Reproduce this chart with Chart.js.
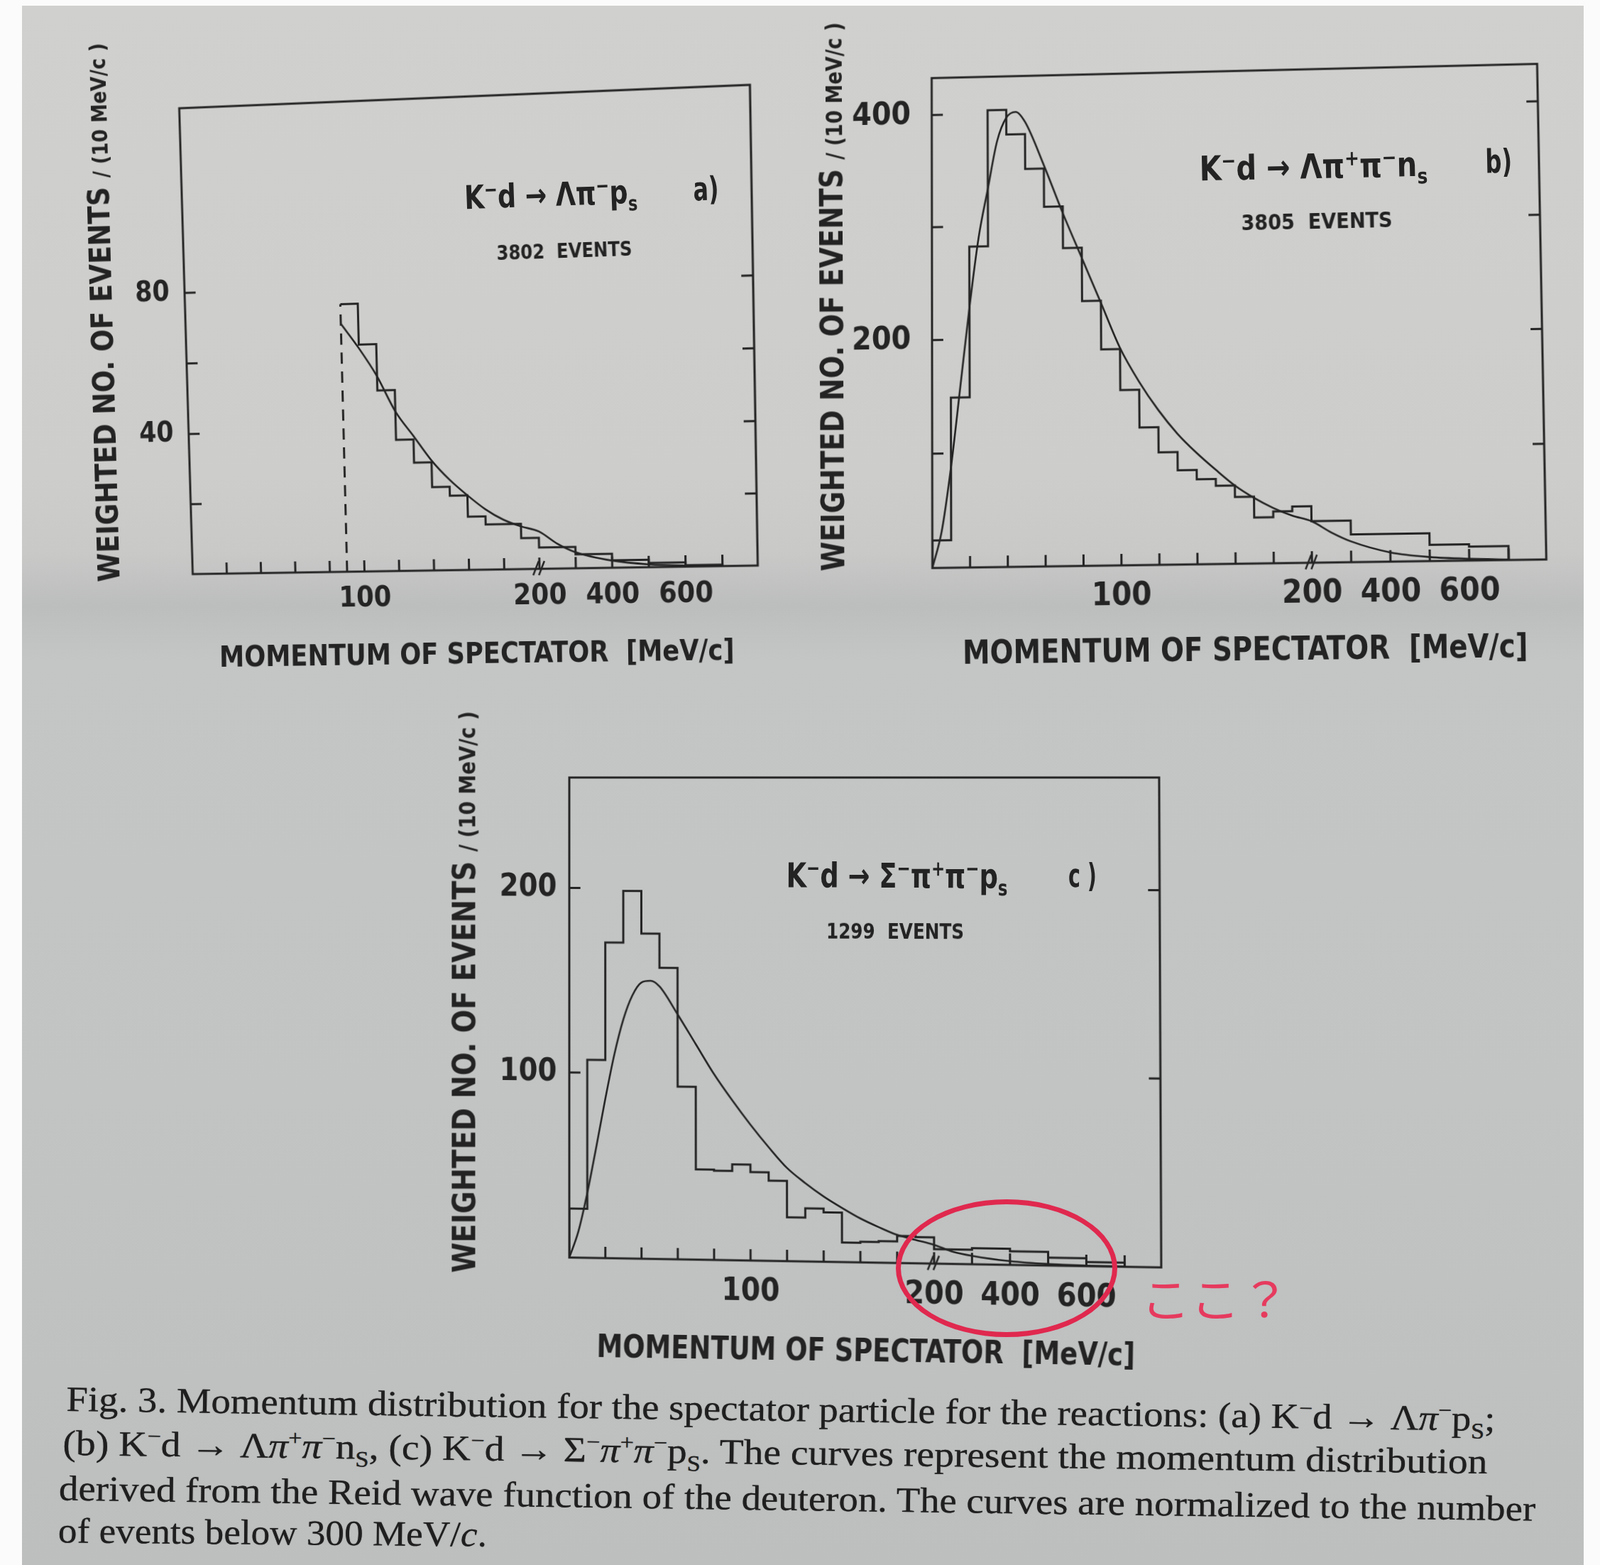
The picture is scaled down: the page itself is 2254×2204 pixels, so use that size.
<!DOCTYPE html>
<html><head><meta charset="utf-8">
<script src="https://cdn.jsdelivr.net/npm/chart.js@4.4.1/dist/chart.umd.min.js"></script>
<style>
html,body{margin:0;padding:0;}
body{width:2254px;height:2204px;position:relative;overflow:hidden;background:#fbfbfb;}
#page{position:absolute;left:31px;top:8px;width:2200px;height:2196px;
 background:linear-gradient(180deg,#d0d0ce 0%,#cdcdcb 30%,#c9c9c8 35%,#bcbdbd 38.5%,#c4c5c5 42%,#c2c3c3 70%,#bdbebe 100%);}
canvas{position:absolute;transform-origin:0 0;}
.t{position:absolute;white-space:nowrap;color:#232323;transform-origin:50% 50%;line-height:1;}
.plot{font-family:'Liberation Sans Narrow','DejaVu Sans Condensed','Liberation Sans',sans-serif;font-weight:bold;}
.cap{font-family:'Liberation Serif','DejaVu Serif',serif;color:#1f1f1f;text-shadow:0 0 1px #333;}
sup,sub{font-size:0.62em;line-height:0;}
#ring{position:absolute;left:1262px;top:1689px;width:312px;height:194px;border:7px solid #e0284e;border-radius:50%;box-sizing:border-box;}
</style></head><body>
<div id="page"></div>
<canvas id="ca"></canvas>
<canvas id="cb"></canvas>
<canvas id="cc"></canvas>
<div id="ring"></div>
<script>
// ---------- data ----------
// x-axis is linear up to 200 MeV/c, compressed above 200 (break "//")
const X_TICK_MOMENTA = [100, 200, 400, 600];
const X_TICK_LABELS = ['100', '200', '400', '600'];
const X_MINOR_MOMENTA = [20,40,60,80,100,120,140,160,180,200,300,400,500,600,700];

// (a) K-d -> Λ π- p_s   (3802 events), histogram starts at 90 MeV/c
const edgesA = [90,100,110,120,130,140,150,160,170,180,190,200,300,400,500,600,700];
const histA  = [75.5,64,51,37,30.5,23.5,21,15,12.7,12.7,8.7,6,3.9,2.1,1.2,0.4];
const curvePA = [90,100,110,120,130,140,150,160,170,180,190,200,250,300,400,500,600,700];
const curveVA = [70,63,55,45,38,31,25.5,21,17,14,12,10.5,7,4.5,2,0.8,0.3,0.1];
const yLabelsA = [40, 80];
const yMinorA = [20, 40, 60, 80];

// (b) K-d -> Λ π+ π- n_s   (3805 events)
const edgesB = [0,10,20,30,40,50,60,70,80,90,100,110,120,130,140,150,160,170,180,190,200,300,400,500,600,700];
const histB  = [24,149,282,403,381,350,316,279,232,189,153,120,98,82,74,68,58,40,45,49,36,24,24,14,12];
const curvePB = [0,5,10,15,20,25,30,35,40,45,50,60,70,80,90,100,110,120,130,140,150,160,170,180,190,200,250,300,400,500,600,700];
const curveVB = [0,32,88,158,228,290,333,375,396,401,392,353,310,270,230,190,160,135,114,97,82,68,57,48,41,36,26,18,8,3.5,1.5,0.5];
const yLabelsB = [200, 400];
const yMinorB = [100, 200, 300, 400];

// (c) K-d -> Σ- π+ π- p_s   (1299 events)
const edgesC = [0,10,20,30,40,50,60,70,80,90,100,110,120,130,140,150,160,170,180,190,200,300,400,500,600,700];
const histC  = [26.5,107,170.5,198.5,175.5,157,93,48.5,48,51.5,47.5,43,23.5,28.5,26.5,10.5,11,11.5,14.5,14,7.7,8.6,7.2,4.2,2.2];
const curvePC = [0,5,10,15,20,25,30,35,40,45,50,60,70,80,90,100,110,120,130,140,150,160,170,180,190,200,250,300,400,500,600,700];
const curveVC = [0,14,35,60,86,110,129,142,149,150,147,132,116,100,86,73,61,50,42,35,29,23.5,19,15,12.5,10,6.5,4.5,2,0.8,0.3,0.1];
const yLabelsC = [100, 200];
const yMinorC = [100, 200];

// ---------- helpers ----------
const INK = '#242424';
const K = 0.205;          // compression factor above 200 MeV/c
const UMAX = 322;
function toU(p){ return p <= 200 ? p : 200 + (p - 200) * K; }
function histPoints(edges, vals, fromZero){
  const pts = [];
  if (fromZero) pts.push({x: toU(edges[0]), y: 0});
  vals.forEach((v, i) => pts.push({x: toU(edges[i]), y: v}));
  const last = edges[edges.length - 1];
  pts.push({x: toU(last), y: vals[vals.length - 1]});
  pts.push({x: toU(last), y: 0});
  return pts;
}
function curvePoints(ps, vs){ return ps.map((p, i) => ({x: toU(p), y: vs[i]})); }

const framePlugin = {
  id: 'frame',
  afterDatasetsDraw(chart, args, o){
    const {ctx, chartArea: a, scales: {x, y}} = chart;
    ctx.save();
    ctx.strokeStyle = INK; ctx.lineWidth = 3; ctx.lineCap = 'butt';
    ctx.strokeRect(a.left, a.top, a.right - a.left, a.bottom - a.top);
    const L = 16;
    ctx.beginPath();
    o.xTicks.forEach(p => { const px = x.getPixelForValue(toU(p)); ctx.moveTo(px, a.bottom); ctx.lineTo(px, a.bottom - L); });
    o.yTicks.forEach(v => { const py = y.getPixelForValue(v);
      ctx.moveTo(a.left, py); ctx.lineTo(a.left + L, py);
      ctx.moveTo(a.right, py); ctx.lineTo(a.right - L, py); });
    ctx.stroke();
    // axis break mark at 200 MeV/c
    const bx = x.getPixelForValue(toU(200));
    ctx.lineWidth = 2.5;
    ctx.beginPath();
    ctx.moveTo(bx - 9, a.bottom + 9); ctx.lineTo(bx - 1, a.bottom - 11);
    ctx.moveTo(bx - 1, a.bottom + 9); ctx.lineTo(bx + 7, a.bottom - 11);
    ctx.stroke();
    ctx.restore();
  }
};

// perspective of the photographed page: map the plot rectangle onto the measured quadrilateral
function homography(src, dst){
  const A = [], b = [];
  for (let i = 0; i < 4; i++){
    const [x, y] = src[i], [u, v] = dst[i];
    A.push([x, y, 1, 0, 0, 0, -u * x, -u * y]); b.push(u);
    A.push([0, 0, 0, x, y, 1, -v * x, -v * y]); b.push(v);
  }
  const n = 8;
  for (let c = 0; c < n; c++){
    let p = c;
    for (let r = c + 1; r < n; r++) if (Math.abs(A[r][c]) > Math.abs(A[p][c])) p = r;
    [A[c], A[p]] = [A[p], A[c]]; [b[c], b[p]] = [b[p], b[c]];
    for (let r = 0; r < n; r++){
      if (r === c) continue;
      const f = A[r][c] / A[c][c];
      for (let k = c; k < n; k++) A[r][k] -= f * A[c][k];
      b[r] -= f * b[c];
    }
  }
  const h = b.map((v, i) => v / A[i][i]);
  return 'matrix3d(' + [h[0], h[3], 0, h[6], h[1], h[4], 0, h[7], 0, 0, 1, 0, h[2], h[5], 0, 1].join(',') + ')';
}

const FONT = "'Liberation Sans Narrow','DejaVu Sans Condensed','Liberation Sans',sans-serif";
const PADL = 140, PADR = 24, PADT = 80, PADB = 90;

function makeChart(id, c){
  const el = document.getElementById(id);
  const q = c.quad; // TL, TR, BR, BL in page px
  const L = (q[0][0] + q[3][0]) / 2, R = (q[1][0] + q[2][0]) / 2;
  const T = (q[0][1] + q[1][1]) / 2, B = (q[2][1] + q[3][1]) / 2;
  const W = Math.round(R - L + PADL + PADR), H = Math.round(B - T + PADT + PADB);
  const ox = L - PADL, oy = T - PADT;
  el.width = W; el.height = H;
  el.style.left = ox + 'px'; el.style.top = oy + 'px';
  const src = [[PADL, PADT], [W - PADR, PADT], [W - PADR, H - PADB], [PADL, H - PADB]];
  const dst = q.map(p => [p[0] - ox, p[1] - oy]);
  el.style.transform = homography(src, dst);
  const datasets = [
    {data: histPoints(c.edges, c.hist, c.fromZero), stepped: 'before', borderColor: INK, borderWidth: 3, pointRadius: 0, fill: false},
    {data: curvePoints(c.curveP, c.curveV), borderColor: INK, borderWidth: 2.6, pointRadius: 0, fill: false, cubicInterpolationMode: 'monotone'}
  ];
  if (!c.fromZero) datasets.push({data: [{x: toU(c.edges[0]), y: 0}, {x: toU(c.edges[0]), y: c.hist[0]}],
    borderColor: INK, borderWidth: 3, borderDash: [16, 11], pointRadius: 0, fill: false});
  new Chart(el, {
    type: 'line',
    data: {datasets},
    options: {
      responsive: false, animation: false, devicePixelRatio: 1,
      layout: {padding: {left: 0, right: PADR, top: PADT, bottom: 0}},
      plugins: {legend: {display: false}, tooltip: {enabled: false}, title: {display: false},
        frame: {xTicks: X_MINOR_MOMENTA, yTicks: c.yMinor}},
      scales: {
        x: {type: 'linear', min: 0, max: UMAX,
          grid: {display: false, drawTicks: false}, border: {display: false},
          afterBuildTicks: s => { s.ticks = X_TICK_MOMENTA.map(p => ({value: toU(p)})); },
          afterFit: s => { s.height = PADB; },
          ticks: {autoSkip: false, maxRotation: 0, minRotation: 0, padding: c.xpad, color: INK,
            font: {family: FONT, size: c.fs, weight: 'bold'}, callback: (v, i) => X_TICK_LABELS[i]}},
        y: {type: 'linear', min: 0, max: c.ymax,
          grid: {display: false, drawTicks: false}, border: {display: false},
          afterBuildTicks: s => { s.ticks = c.yLabels.map(v => ({value: v})); },
          afterFit: s => { s.width = PADL; },
          ticks: {padding: c.ypad, color: INK, font: {family: FONT, size: c.fs, weight: 'bold'}, callback: v => String(v)}}
      }
    },
    plugins: [framePlugin]
  });
}

makeChart('ca', {quad: [[252,152],[1056,119],[1067,796],[271,808]], ymax: 132, edges: edgesA, hist: histA, fromZero: false,
  curveP: curvePA, curveV: curveVA, yLabels: yLabelsA, yMinor: yMinorA, fs: 40, xpad: 16, ypad: 22});
makeChart('cb', {quad: [[1312,110],[2165,90],[2178,788],[1313,800]], ymax: 433, edges: edgesB, hist: histB, fromZero: true,
  curveP: curvePB, curveV: curveVB, yLabels: yLabelsB, yMinor: yMinorB, fs: 45, xpad: 16, ypad: 30});
makeChart('cc', {quad: [[802,1095],[1633,1095],[1636,1785],[802,1771]], ymax: 260, edges: edgesC, hist: histC, fromZero: true,
  curveP: curvePC, curveV: curveVC, yLabels: yLabelsC, yMinor: yMinorC, fs: 44, xpad: 18, ypad: 18});

// ---------- text ----------
function addText(html, o){
  const d = document.createElement('div');
  d.className = 't ' + (o.cls || 'plot');
  d.innerHTML = html;
  d.style.fontSize = o.size + 'px';
  if (o.color) d.style.color = o.color;
  if (o.weight) d.style.fontWeight = o.weight;
  if (o.family) d.style.fontFamily = o.family;
  document.body.appendChild(d);
  const w0 = d.offsetWidth, h0 = d.offsetHeight;
  d.style.left = (o.cx - w0 / 2) + 'px';
  d.style.top = (o.cy - h0 / 2) + 'px';
  const sx = o.w ? o.w / w0 : 1;
  d.style.transform = 'rotate(' + (o.rot || 0) + 'deg) scale(' + sx + ',1)';
}
const YT = 'WEIGHTED NO. OF EVENTS <span style="font-size:0.72em">/ (10 MeV/c )</span>';
const XT = 'MOMENTUM OF SPECTATOR &nbsp;[MeV/c]';
// panel a
addText(YT, {cx: 144, cy: 440, w: 759, size: 42, rot: -91.6});
addText(XT, {cx: 672, cy: 920, w: 726, size: 40, rot: -0.8});
addText('K<sup>−</sup>d → Λπ<sup>−</sup>p<sub>s</sub>', {cx: 776, cy: 274, w: 244, size: 46, rot: -2});
addText('a)', {cx: 994, cy: 266, w: 36, size: 46, rot: -2});
addText('3802 &nbsp;EVENTS', {cx: 795, cy: 354, w: 191, size: 28, rot: -1.9});
// panel b
addText(YT, {cx: 1172, cy: 418, w: 773, size: 44, rot: -90.3});
addText(XT, {cx: 1754, cy: 914, w: 796, size: 46, rot: -0.7});
addText('K<sup>−</sup>d → Λπ<sup>+</sup>π<sup>−</sup>n<sub>s</sub>', {cx: 1850, cy: 234, w: 321, size: 48, rot: -1.2});
addText('b)', {cx: 2111, cy: 227, w: 38, size: 46, rot: -1.2});
addText('3805 &nbsp;EVENTS', {cx: 1855, cy: 312, w: 213, size: 30, rot: -1.2});
// panel c
addText(YT, {cx: 654, cy: 1397, w: 791, size: 44, rot: -90});
addText(XT, {cx: 1220, cy: 1902, w: 759, size: 44, rot: 0.9});
addText('K<sup>−</sup>d → Σ<sup>−</sup>π<sup>+</sup>π<sup>−</sup>p<sub>s</sub>', {cx: 1263, cy: 1233, w: 312, size: 48, rot: 0.2});
addText('c )', {cx: 1525, cy: 1233, w: 40, size: 46, rot: 0.2});
addText('1299 &nbsp;EVENTS', {cx: 1261, cy: 1312, w: 194, size: 30, rot: 0.2});
// caption
addText('Fig. 3. Momentum distribution for the spectator particle for the reactions: (a) K<sup>−</sup>d → Λ<i>π</i><sup>−</sup>p<sub>S</sub>;',
  {cls: 'cap', cx: 1100, cy: 1984, w: 2013, size: 50, rot: 0.8});
addText('(b) K<sup>−</sup>d → Λ<i>π</i><sup>+</sup><i>π</i><sup>−</sup>n<sub>S</sub>, (c) K<sup>−</sup>d → Σ<sup>−</sup><i>π</i><sup>+</sup><i>π</i><sup>−</sup>p<sub>S</sub>. The curves represent the momentum distribution',
  {cls: 'cap', cx: 1092, cy: 2045, w: 2007, size: 50, rot: 0.75});
addText('derived from the Reid wave function of the deuteron. The curves are normalized to the number',
  {cls: 'cap', cx: 1123, cy: 2110, w: 2080, size: 50, rot: 0.8});
addText('of events below 300 MeV/<i>c</i>.',
  {cls: 'cap', cx: 384, cy: 2158, w: 604, size: 50, rot: 0.5});
// annotation
addText('ここ？', {cx: 1712, cy: 1826, w: 210, size: 66, color: '#e63a5e', weight: 400, family: "'Noto Sans CJK JP',sans-serif"});
</script>
</body></html>
